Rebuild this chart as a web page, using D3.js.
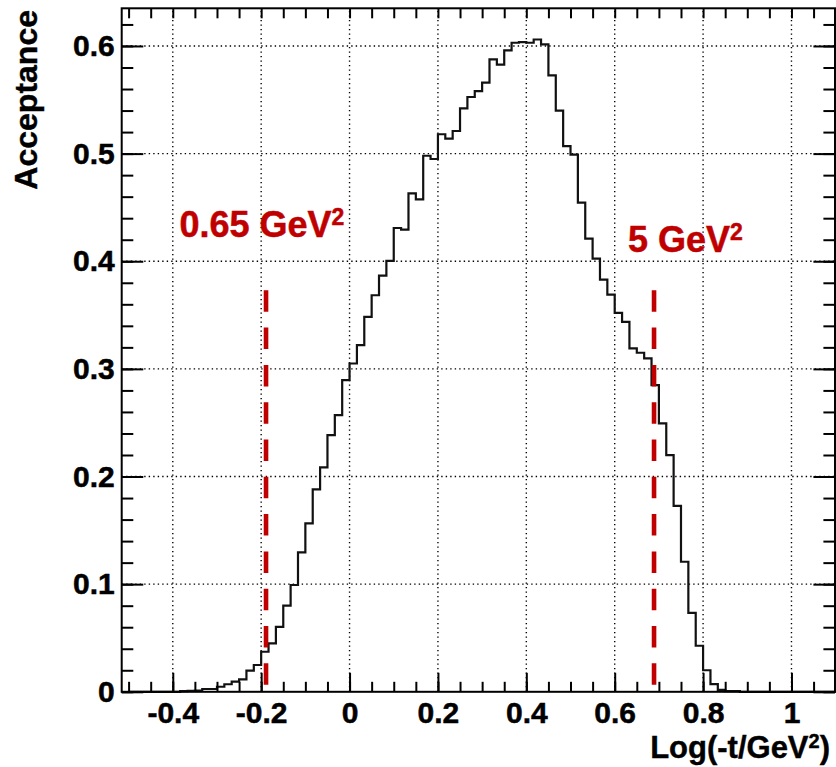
<html>
<script src="https://d3js.org/d3.v7.min.js"></script>
<style>
body {margin: 0; background: white;}
text {font-family: "Liberation Sans", Arial, Helvetica, sans-serif; font-weight: bold;}
.grid line {stroke: #000; stroke-width: 1.4; stroke-dasharray: 1.4,3.1;}
.axis line {stroke: #000; stroke-width: 2;}
.axis path {display: none;}
</style>
<body>
<svg id="chart" width="836" height="767"></svg>
<script>
// histogram definition: 96 bins from -0.5 to 1.1
var histMin = -0.5;
var histMax = 1.1;
var nBins = 96;

// acceptance per bin
var acceptance = [
  0, 0, 0, 0, 0, 0, 0,
  0.0006, 0.0008, 0.0010, 0.0026, 0.0026, 0.0047, 0.0070, 0.0094, 0.0116, 0.0196,
  0.0249, 0.0372, 0.0450, 0.0604, 0.0800, 0.0992, 0.1295, 0.1565, 0.1880, 0.2085,
  0.2384, 0.2570, 0.2895, 0.3050, 0.3220, 0.3483, 0.3684, 0.3867, 0.4003, 0.4309,
  0.4294, 0.4630, 0.4575, 0.4980, 0.4950, 0.5180, 0.5140, 0.5210, 0.5420, 0.5526,
  0.5580, 0.5660, 0.5876, 0.5826, 0.5960, 0.6030, 0.6036, 0.6030, 0.6060, 0.6015,
  0.5727, 0.5400, 0.5070, 0.4990, 0.4545, 0.4210, 0.4025, 0.3830, 0.3690, 0.3520,
  0.3436, 0.3190, 0.3150, 0.3097, 0.2850, 0.2493, 0.2199, 0.1728, 0.1208, 0.0734,
  0.0428, 0.0200, 0.0072, 0.0017, 0.0007, 0.0007,
  0, 0, 0, 0, 0, 0, 0, 0, 0, 0, 0, 0, 0
];

// axes
var xRange = [-0.5156, 1.0985];
var yRange = [0, 0.635];
var xMajor = [-0.4, -0.2, 0, 0.2, 0.4, 0.6, 0.8, 1.0];
var xLabels = ["-0.4", "-0.2", "0", "0.2", "0.4", "0.6", "0.8", "1"];
var yMajor = [0, 0.1, 0.2, 0.3, 0.4, 0.5, 0.6];
var yLabels = ["0", "0.1", "0.2", "0.3", "0.4", "0.5", "0.6"];

// t cuts (log10 of -t) and their labels
var cutPos = [-0.189, 0.689];
var cutTop = 0.373;
var cutBottom = 0.0063;
var cutText = ["0.65 GeV", "5 GeV"];
var cutTextPos = [[-0.385, 0.4226], [0.630, 0.4086]];

var red = "#c00000";
var svg = d3.select("#chart");

var x = d3.scaleLinear().domain(xRange).range([121.7, 835]);
var y = d3.scaleLinear().domain(yRange).range([691.8, 8.3]);

var x0 = x(xRange[0]), x1 = x(xRange[1]);
var y0 = y(yRange[0]), y1 = y(yRange[1]);

//grid
var grid = svg.append("g").attr("class", "grid");
grid.selectAll(".gx").data(xMajor).enter().append("line")
    .attr("x1", function(d) {return x(d);}).attr("x2", function(d) {return x(d);})
    .attr("y1", y0).attr("y2", y1);
grid.selectAll(".gy").data(yMajor.slice(1)).enter().append("line")
    .attr("x1", x0).attr("x2", x1)
    .attr("y1", function(d) {return y(d);}).attr("y2", function(d) {return y(d);});

//histogram
var binW = (histMax - histMin) / nBins;
var pts = acceptance.map(function(v, i) {return [histMin + i * binW, v];});
pts.push([histMax, acceptance[nBins - 1]]);
var line = d3.line()
    .x(function(d) {return x(d[0]);})
    .y(function(d) {return y(d[1]);})
    .curve(d3.curveStepAfter);
svg.append("path")
    .datum(pts)
    .attr("d", line)
    .attr("fill", "none")
    .attr("stroke", "#111")
    .attr("stroke-width", 2.2)
    .attr("stroke-linejoin", "miter");

//cut lines
svg.selectAll(".cut").data(cutPos).enter().append("line")
    .attr("x1", function(d) {return x(d);}).attr("x2", function(d) {return x(d);})
    .attr("y1", y(cutTop)).attr("y2", y(cutBottom))
    .attr("stroke", red)
    .attr("stroke-width", 4.6)
    .attr("stroke-dasharray", "21.5,15.8");

var lab = svg.selectAll(".cutlab").data(cutText).enter().append("text")
    .attr("x", function(d, i) {return x(cutTextPos[i][0]);})
    .attr("y", function(d, i) {return y(cutTextPos[i][1]);})
    .style("fill", red)
    .style("stroke", red)
    .style("stroke-width", 0.5)
    .style("font-size", "36px");
lab.append("tspan").text(function(d) {return d;});
lab.append("tspan").attr("dy", -12).style("font-size", "23px").text("2");

//axes (ticks drawn inside the frame)
function minorTicks(a, b, step) {
    var out = [];
    for (var v = a; v <= b + 1e-9; v += step) out.push(+v.toFixed(4));
    return out;
}
var xMinor = minorTicks(-0.5, 1.05, 0.05);
var yMinor = minorTicks(0, 0.62, 0.02);

svg.append("g").attr("class", "axis")
    .attr("transform", "translate(0," + y0 + ")")
    .call(d3.axisBottom(x).tickValues(xMinor).tickSize(-10).tickFormat(""));
svg.append("g").attr("class", "axis")
    .attr("transform", "translate(0," + y0 + ")")
    .call(d3.axisBottom(x).tickValues(xMajor).tickSize(-19).tickPadding(10)
        .tickFormat(function(d, i) {return xLabels[i];}))
    .selectAll("text").style("font-size", "30px").style("fill", "#000")
    .style("stroke", "#000").style("stroke-width", 0.5);
svg.append("g").attr("class", "axis")
    .attr("transform", "translate(0," + y1 + ")")
    .call(d3.axisTop(x).tickValues(xMinor).tickSize(-10).tickFormat(""));

svg.append("g").attr("class", "axis")
    .attr("transform", "translate(" + x0 + ",0)")
    .call(d3.axisLeft(y).tickValues(yMinor).tickSize(-11.6).tickFormat(""));
svg.append("g").attr("class", "axis")
    .attr("transform", "translate(" + x0 + ",0)")
    .call(d3.axisLeft(y).tickValues(yMajor).tickSize(-21.6).tickPadding(7)
        .tickFormat(function(d, i) {return yLabels[i];}))
    .selectAll("text").style("font-size", "30px").style("fill", "#000")
    .style("stroke", "#000").style("stroke-width", 0.5);
svg.append("g").attr("class", "axis")
    .attr("transform", "translate(" + x1 + ",0)")
    .call(d3.axisRight(y).tickValues(yMinor).tickSize(-11.6).tickFormat(""));
svg.append("g").attr("class", "axis")
    .attr("transform", "translate(" + x1 + ",0)")
    .call(d3.axisRight(y).tickValues(yMajor).tickSize(-21.6).tickFormat(""));

//frame
svg.append("rect")
    .attr("x", x0).attr("y", y1)
    .attr("width", x1 - x0).attr("height", y0 - y1)
    .attr("fill", "none").attr("stroke", "#000").attr("stroke-width", 2);

//axis titles
var xt = svg.append("text")
    .attr("x", 830).attr("y", 758)
    .attr("text-anchor", "end")
    .style("font-size", "31px")
    .style("stroke", "#000").style("stroke-width", 0.4);
xt.append("tspan").text("Log(-t/GeV");
xt.append("tspan").attr("dy", -10).style("font-size", "20px").text("2");
xt.append("tspan").attr("dy", 10).text(")");

svg.append("text")
    .attr("transform", "translate(37,10) rotate(-90)")
    .attr("text-anchor", "end")
    .style("font-size", "32px")
    .style("stroke", "#000").style("stroke-width", 0.4)
    .text("Acceptance");
</script>
</body>
</html>
